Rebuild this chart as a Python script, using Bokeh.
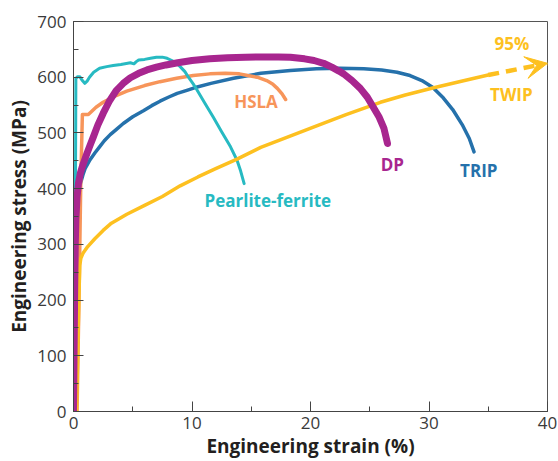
from bokeh.plotting import figure
from bokeh.models import Range1d, Label, Arrow, VeeHead, SingleIntervalTicker
from bokeh.embed import file_html
from bokeh.resources import INLINE

# Engineering stress-strain curves for several automotive steels (strain in %, stress in MPa)
trip_strain = [0, 0.15, 0.3, 0.45, 0.6, 0.8, 1.0, 1.4, 1.8, 2.2, 2.6, 3.1, 3.6, 4.2, 5.0,
               5.9, 6.6, 7.3, 8.0, 8.75, 9.5, 10.2, 11.6, 13.5, 15.8, 18.3, 20.5, 22.5, 24.5,
               26.0, 27.3, 28.4, 29.4, 30.3, 31.2, 32.0, 32.8, 33.4, 33.8]
trip_stress = [0, 200, 360, 395, 410, 425, 437, 452, 464, 475, 486, 497, 506, 517, 529,
               540, 549, 557, 564, 571, 576, 581, 589, 598, 607, 612, 615, 616, 615,
               613, 609, 603, 594, 582, 563, 542, 515, 490, 466]

hsla_strain = [0.3, 0.5, 0.62, 0.75, 1.0, 1.25, 1.5, 1.9, 2.5, 3.5, 4.5, 6.0, 7.3, 8.7, 10.1,
               11.5, 12.8, 14.0, 14.7, 15.5, 16.3, 16.8, 17.2, 17.6, 17.9]
hsla_stress = [0, 250, 420, 533, 533, 533, 538, 546, 555, 566, 575, 585, 592, 598, 603,
               606, 607, 606, 603, 600, 594, 588, 580, 570, 560]

pf_strain = [0.1, 0.2, 0.35, 0.53, 0.75, 0.95, 1.15, 1.35, 1.7, 2.2, 2.8, 3.35, 4.0, 4.8,
             5.1, 5.3, 5.5, 6.0, 6.5, 7.0, 7.5, 7.9, 8.3, 8.7, 9.0, 9.4, 9.7, 10.1, 10.4,
             11.1, 11.8, 12.5, 13.25, 13.8, 14.1, 14.4]
pf_stress = [0, 598, 601, 601, 594, 589, 593, 600, 609, 616, 619, 621, 623, 626,
             624, 628, 631, 632, 634, 636, 636, 634, 630, 625, 619, 610, 600, 588, 578,
             553, 528, 502, 475, 451, 432, 409]

dp_strain = [0, 0.05, 0.1, 0.15, 0.2, 0.3, 0.42, 0.58, 0.78, 0.95, 1.15, 1.4, 1.66, 2.05,
             2.5, 3.0, 3.6, 4.2, 4.8, 5.5, 6.2, 7.0, 7.8, 8.8, 10.0, 11.5, 13.0, 14.5, 16.0,
             17.3, 18.3, 19.5, 20.3, 21.1, 21.8, 22.4, 22.8, 23.5, 24.2, 24.8, 25.3, 25.8,
             26.2, 26.5]
dp_stress = [0, 110, 220, 300, 345, 385, 410, 428, 442, 452, 464, 478, 492, 514,
             535, 556, 576, 589, 599, 607, 613, 618, 622, 626, 630, 633, 635, 636, 636.5,
             636.5, 636, 633, 630, 625, 618, 611, 606, 594, 580, 564, 546, 528,
             508, 481]

twip_strain = [0.25, 0.45, 0.53, 0.62, 0.8, 1.2, 1.8, 2.5, 3.2, 4.5, 6.0, 7.5, 9.0, 10.5,
               12.0, 13.8, 15.8, 18.0, 20.3, 23.0, 25.9, 28.0, 30.4, 33.0, 35.0]
twip_stress = [0, 200, 262, 275, 284, 296, 310, 325, 338, 354, 370, 386, 405, 421,
               436, 453, 474, 492, 511, 533, 555, 568, 581, 594, 604]

# TWIP keeps going well past the axis: dashed continuation with an arrow
twip_ext_strain = [35.0, 40.0]
twip_ext_stress = [604, 625]

x_ticks = [0, 10, 20, 30, 40]
y_ticks = [0, 100, 200, 300, 400, 500, 600, 700]

C_TRIP = "#2571ab"
C_HSLA = "#f7955a"
C_PF = "#27bac2"
C_DP = "#a8268f"
C_TWIP = "#fdc020"

p = figure(width=558, height=461, x_range=Range1d(x_ticks[0], x_ticks[-1]),
           y_range=Range1d(y_ticks[0], y_ticks[-1]),
           output_backend="svg", toolbar_location=None,
           min_border_left=73, min_border_right=11, min_border_top=21, min_border_bottom=50)

p.xgrid.visible = False
p.ygrid.visible = False
p.outline_line_color = "#555555"
p.outline_line_width = 1
p.background_fill_color = "white"
p.border_fill_color = "white"

p.xaxis.ticker = SingleIntervalTicker(interval=10, num_minor_ticks=2)
p.yaxis.ticker = SingleIntervalTicker(interval=100, num_minor_ticks=2)
for ax in (p.xaxis[0], p.yaxis[0]):
    ax.axis_line_color = "#444444"
    ax.axis_line_width = 1
    ax.major_tick_line_color = "#444444"
    ax.minor_tick_line_color = "#444444"
    ax.major_tick_in = 10
    ax.major_tick_out = 0
    ax.minor_tick_in = 5
    ax.minor_tick_out = 0
    ax.major_label_text_font = "Open Sans"
    ax.major_label_text_font_size = "17px"
    ax.major_label_text_color = "#3a3a3a"
    ax.axis_label_text_font = "Open Sans"
    ax.axis_label_text_font_size = "19px"
    ax.axis_label_text_font_style = "bold"
    ax.axis_label_text_color = "#231f20"

p.xaxis.axis_label = "Engineering strain (%)"
p.yaxis.axis_label = "Engineering stress (MPa)"
p.xaxis.major_label_standoff = 5
p.xaxis.axis_label_standoff = 1
p.yaxis.major_label_standoff = 7
p.yaxis.axis_label_standoff = 2

common = dict(line_join="round", line_cap="round")
p.line(trip_strain, trip_stress, line_color=C_TRIP, line_width=3.5, **common)
p.line(hsla_strain, hsla_stress, line_color=C_HSLA, line_width=3.5, **common)
p.line(pf_strain, pf_stress, line_color=C_PF, line_width=3, **common)
p.line(twip_strain, twip_stress, line_color=C_TWIP, line_width=3.5, **common)
p.line(dp_strain, dp_stress, line_color=C_DP, line_width=7, **common)

p.add_layout(Arrow(x_start=twip_ext_strain[0], y_start=twip_ext_stress[0],
                   x_end=twip_ext_strain[1], y_end=twip_ext_stress[1],
                   line_color=C_TWIP, line_width=4.5, line_dash="11 7",
                   end=VeeHead(size=22, fill_color=C_TWIP, line_color=C_TWIP, line_width=1)))

labels = [
    ("95%", 37.0, 660, C_TWIP),
    ("TWIP", 36.95, 569, C_TWIP),
    ("TRIP", 34.2, 433, C_TRIP),
    ("DP", 26.9, 443, C_DP),
    ("HSLA", 15.4, 556, C_HSLA),
    ("Pearlite-ferrite", 16.4, 379, C_PF),
]
for txt, lx, ly, col in labels:
    p.add_layout(Label(x=lx, y=ly, text=txt, text_color=col, text_font="Open Sans",
                       text_font_size="17px", text_font_style="bold",
                       text_align="center", text_baseline="middle"))

open("out.html", "w").write(file_html(p, INLINE))
